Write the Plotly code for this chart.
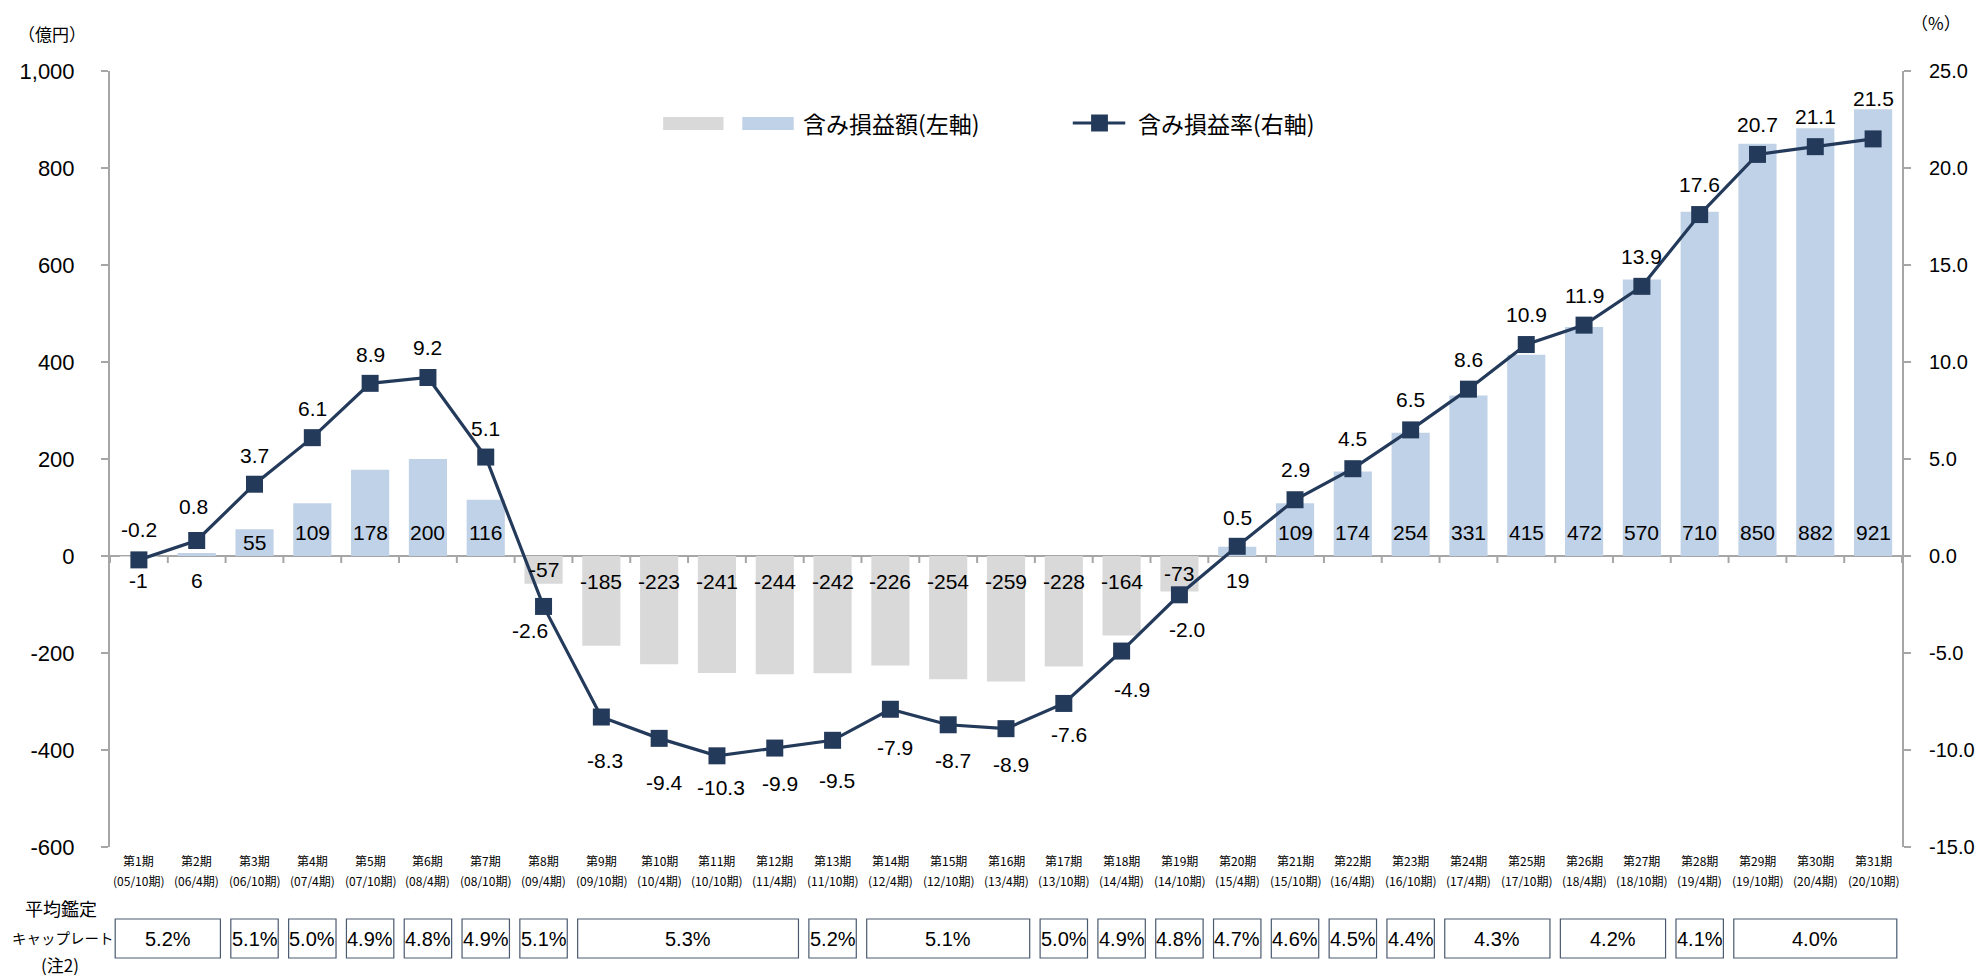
import plotly.graph_objects as go

# ---------------- data ----------------
periods = ["第1期", "第2期", "第3期", "第4期", "第5期", "第6期", "第7期", "第8期", "第9期", "第10期",
           "第11期", "第12期", "第13期", "第14期", "第15期", "第16期", "第17期", "第18期", "第19期", "第20期",
           "第21期", "第22期", "第23期", "第24期", "第25期", "第26期", "第27期", "第28期", "第29期", "第30期", "第31期"]
fiscal = ["(05/10期)", "(06/4期)", "(06/10期)", "(07/4期)", "(07/10期)", "(08/4期)", "(08/10期)", "(09/4期)",
          "(09/10期)", "(10/4期)", "(10/10期)", "(11/4期)", "(11/10期)", "(12/4期)", "(12/10期)", "(13/4期)",
          "(13/10期)", "(14/4期)", "(14/10期)", "(15/4期)", "(15/10期)", "(16/4期)", "(16/10期)", "(17/4期)",
          "(17/10期)", "(18/4期)", "(18/10期)", "(19/4期)", "(19/10期)", "(20/4期)", "(20/10期)"]
unrealized = [-1, 6, 55, 109, 178, 200, 116, -57, -185, -223, -241, -244, -242, -226, -254, -259,
              -228, -164, -73, 19, 109, 174, 254, 331, 415, 472, 570, 710, 850, 882, 921]
unrealized_rate = [-0.2, 0.8, 3.7, 6.1, 8.9, 9.2, 5.1, -2.6, -8.3, -9.4, -10.3, -9.9, -9.5, -7.9, -8.7, -8.9,
                   -7.6, -4.9, -2.0, 0.5, 2.9, 4.5, 6.5, 8.6, 10.9, 11.9, 13.9, 17.6, 20.7, 21.1, 21.5]
cap_rates = [5.2, 5.1, 5.0, 4.9, 4.8, 4.9, 5.1, 5.3, 5.2, 5.1, 5.0, 4.9, 4.8, 4.7, 4.6, 4.5, 4.4, 4.3, 4.2, 4.1, 4.0]
cap_first_period = [1, 3, 4, 5, 6, 7, 8, 9, 13, 14, 17, 18, 19, 20, 21, 22, 23, 24, 26, 28, 29]
cap_last_period = [2, 3, 4, 5, 6, 7, 8, 12, 13, 16, 17, 18, 19, 20, 21, 22, 23, 25, 27, 28, 31]
left_ticks = [-600, -400, -200, 0, 200, 400, 600, 800, 1000]
right_ticks = [-15.0, -10.0, -5.0, 0.0, 5.0, 10.0, 15.0, 20.0, 25.0]

# ---------------- styles / layout positions (page pixels) ----------------
PAGE_W, PAGE_H = 1987, 979
BODY = 8                       # default body margin of the html page
W, H = PAGE_W - BODY, PAGE_H - BODY
PL, PR, PT, PB = 108, 1919, 71, 847
BLUE = "#c0d2e7"
GRAY = "#d9d9d9"
NAVY = "#243a5a"
AXIS = "#a6a6a6"
NUM_FONT = "Liberation Sans, Arial, Noto Sans CJK JP"
JP_FONT = "Noto Sans CJK JP, Liberation Sans"

# label offsets (px) for the rate labels: (xshift, yshift)
rate_label_shift = [(0, 30), (-3, 34), (0, 29), (0, 29), (0, 29), (0, 30), (0, 29), (-14, -24),
                    (4, -43), (5, -44), (4, -32), (5, -35), (4, -40), (5, -38), (5, -36), (5, -36),
                    (5, -31), (10, -38), (8, -35), (0, 29), (0, 30), (0, 30), (0, 30), (0, 30),
                    (0, 30), (0, 30), (0, 30), (0, 30), (0, 30), (0, 30), (0, 40)]


def pxx(p):
    return (p - PL) / (PR - PL)


def pxy(p):
    return (PB - p) / (PB - PT)


fig = go.Figure()

fig.add_trace(go.Bar(
    x=periods, y=unrealized,
    marker=dict(color=[GRAY if v < 0 else BLUE for v in unrealized], line=dict(width=0)),
    yaxis="y", showlegend=False, hoverinfo="skip",
))
fig.add_trace(go.Scatter(
    x=periods, y=unrealized_rate, yaxis="y2", mode="lines+markers",
    line=dict(color=NAVY, width=3.2),
    marker=dict(symbol="square", size=17, color=NAVY, line=dict(width=0)),
    showlegend=False, hoverinfo="skip",
))

annotations = []
shapes = []

# bar value labels
for i, v in enumerate(unrealized):
    if abs(v) >= 100:
        y, ys = 0, (24 if v > 0 else -25)
    elif abs(v) >= 30:
        y, ys = v / 2, 0
    else:
        y, ys = 0, -24
    annotations.append(dict(x=i, y=y, xref="x", yref="y", yshift=ys, text=f"{v}", showarrow=False,
                            font=dict(family=NUM_FONT, size=21, color="#000000"),
                            xanchor="center", yanchor="middle"))

# rate labels
for i, r in enumerate(unrealized_rate):
    xs, ys = rate_label_shift[i]
    annotations.append(dict(x=i, y=r, xref="x", yref="y2", xshift=xs, yshift=ys, text=f"{r:.1f}",
                            showarrow=False, font=dict(family=NUM_FONT, size=21, color="#000000"),
                            xanchor="center", yanchor="middle"))

# category labels (two lines)
for i, (p, f) in enumerate(zip(periods, fiscal)):
    annotations.append(dict(x=i, y=pxy(860), xref="x", yref="paper", text=p, showarrow=False,
                            font=dict(family=JP_FONT, size=12, color="#000000"), yanchor="middle"))
    annotations.append(dict(x=i, y=pxy(880), xref="x", yref="paper", text=f, showarrow=False,
                            font=dict(family=JP_FONT, size=12, color="#000000"), yanchor="middle"))

# tick marks on the zero line (category boundaries)
for b in range(0, len(periods) + 1):
    shapes.append(dict(type="line", xref="x", yref="y", x0=b - 0.5, x1=b - 0.5,
                       ysizemode="pixel", yanchor=0, y0=0, y1=-7,
                       line=dict(color=AXIS, width=2)))

# cap-rate table
for r, a, b in zip(cap_rates, cap_first_period, cap_last_period):
    shapes.append(dict(type="rect", xref="x", yref="paper", x0=a - 1 - 0.5 + 0.09, x1=b - 1 + 0.5 - 0.09,
                       y0=pxy(958), y1=pxy(919), line=dict(color="#4a5a70", width=1.2), fillcolor="white"))
    annotations.append(dict(x=(a + b) / 2 - 1, y=pxy(938.5), xref="x", yref="paper", text=f"{r:.1f}%",
                            showarrow=False, font=dict(family=NUM_FONT, size=20, color="#000000"),
                            yanchor="middle"))

# row title
for txt, xx, yy, sz in [("平均鑑定", 58, 908, 18), ("キャップレート", 61, 937, 14.5), ("(注2)", 57, 965, 17)]:
    annotations.append(dict(x=pxx(xx), y=pxy(yy), xref="paper", yref="paper", text=txt, showarrow=False,
                            font=dict(family=JP_FONT, size=sz, color="#000000"),
                            xanchor="center", yanchor="middle"))

# axis unit titles
annotations.append(dict(x=pxx(49), y=pxy(34), xref="paper", yref="paper", text="（億円）", showarrow=False,
                        font=dict(family=JP_FONT, size=17, color="#000000"), xanchor="center", yanchor="middle"))
annotations.append(dict(x=pxx(1953), y=pxy(22), xref="paper", yref="paper", text="（%）", showarrow=False,
                        font=dict(family=JP_FONT, size=17, color="#000000"), xanchor="center", yanchor="middle"))

# custom legend
shapes.append(dict(type="rect", xref="paper", yref="paper", x0=pxx(667), x1=pxx(728), y0=pxy(130), y1=pxy(117),
                   fillcolor=GRAY, line=dict(width=0)))
shapes.append(dict(type="rect", xref="paper", yref="paper", x0=pxx(747), x1=pxx(799), y0=pxy(130), y1=pxy(117),
                   fillcolor=BLUE, line=dict(width=0)))
annotations.append(dict(x=pxx(806), y=pxy(123), xref="paper", yref="paper", text="含み損益額(左軸)",
                        showarrow=False, font=dict(family=JP_FONT, size=23, color="#000000"),
                        xanchor="left", yanchor="middle"))
shapes.append(dict(type="line", xref="paper", yref="paper", x0=pxx(1081), x1=pxx(1134), y0=pxy(123), y1=pxy(123),
                   line=dict(color=NAVY, width=3.2)))
shapes.append(dict(type="rect", xref="paper", yref="paper", x0=pxx(1099.5), x1=pxx(1116.5),
                   y0=pxy(131.5), y1=pxy(114.5), fillcolor=NAVY, line=dict(width=0)))
annotations.append(dict(x=pxx(1145), y=pxy(123), xref="paper", yref="paper", text="含み損益率(右軸)",
                        showarrow=False, font=dict(family=JP_FONT, size=23, color="#000000"),
                        xanchor="left", yanchor="middle"))

fig.update_layout(
    width=W, height=H, autosize=False,
    margin=dict(l=PL - BODY, r=PAGE_W - PR, t=PT - BODY, b=PAGE_H - PB, pad=0),
    paper_bgcolor="white", plot_bgcolor="white",
    bargap=0.34,
    showlegend=False,
    xaxis=dict(type="category", range=[-0.5, len(periods) - 0.5], showticklabels=False, ticks="",
               showline=False, showgrid=False, zeroline=False, fixedrange=True),
    yaxis=dict(range=[-600, 1000], tickvals=left_ticks, ticktext=[f"{v:,}" for v in left_ticks],
               showline=True, linecolor=AXIS, linewidth=2, ticks="outside", ticklen=7, tickwidth=2,
               tickcolor=AXIS, showgrid=False, zeroline=True, zerolinecolor=AXIS, zerolinewidth=2,
               tickfont=dict(family=NUM_FONT, size=22, color="#000000"), ticklabelstandoff=22),
    yaxis2=dict(range=[-15, 25], overlaying="y", side="right", tickvals=right_ticks,
                ticktext=[f"{v:.1f}" for v in right_ticks],
                showline=True, linecolor=AXIS, linewidth=2, ticks="outside", ticklen=7, tickwidth=2,
                tickcolor=AXIS, showgrid=False, zeroline=False,
                tickfont=dict(family=NUM_FONT, size=20, color="#000000"), ticklabelstandoff=14),
    annotations=annotations,
    shapes=shapes,
)

fig.write_html("out.html")
